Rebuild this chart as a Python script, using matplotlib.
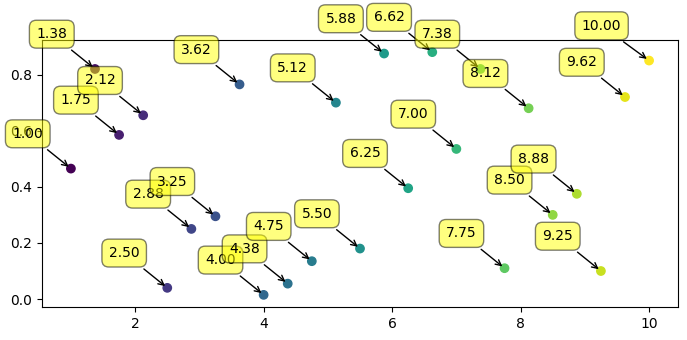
import matplotlib
matplotlib.use("Agg")
import matplotlib.pyplot as plt
import numpy as np

x_vals = [1.00, 1.375, 1.75, 2.125, 2.50, 2.875, 3.25, 3.625, 4.00, 4.375, 4.75, 5.125,
          5.50, 5.875, 6.25, 6.625, 7.00, 7.375, 7.75, 8.125, 8.50, 8.875, 9.25, 9.625, 10.00]
y_vals = [0.465, 0.82, 0.585, 0.655, 0.04, 0.25, 0.295, 0.765, 0.015, 0.055, 0.135, 0.70,
          0.18, 0.875, 0.395, 0.88, 0.535, 0.82, 0.11, 0.68, 0.30, 0.375, 0.10, 0.72, 0.85]

fig = plt.figure(figsize=(6.87, 3.40), dpi=100)
ax = fig.add_axes([42/687, 1-307/340, (678-42)/687, (307-40)/340])
ax.scatter(x_vals, y_vals, c=x_vals, cmap='viridis')
for xv, yv in zip(x_vals, y_vals):
    ax.annotate(f"{xv:.2f}", xy=(xv, yv), xytext=(-20, 20), textcoords='offset points',
                ha='right', va='bottom',
                bbox=dict(boxstyle='round,pad=0.5', fc='yellow', alpha=0.5),
                arrowprops=dict(arrowstyle='->', connectionstyle='arc3,rad=0'))
fig.savefig("out.png", dpi=100)
